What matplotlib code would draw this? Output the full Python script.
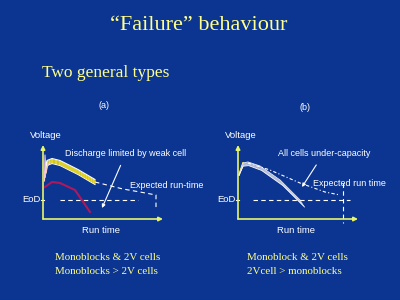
import matplotlib.pyplot as plt
import numpy as np

# schematic discharge curves (time units, voltage units) read off the slide
# chart (a)
a_cells_t = [0.2, 0.4, 0.9, 1.7, 3.5, 5.2]
a_cells_v = [4.4, 5.6, 5.8, 5.6, 4.7, 3.7]
a_spike_t = [0.15, 0.2, 0.3, 0.45, 0.7]
a_spike_v = [3.8, 6.4, 4.6, 5.3, 5.7]
a_weak_t = [0.2, 0.9, 1.7, 3.2, 4.7]
a_weak_v = [3.2, 3.7, 3.6, 2.9, 0.7]
a_exp_t = [5.2, 8.0, 9.7, 11.3, 11.3]
a_exp_v = [3.7, 3.0, 2.7, 2.4, 1.1]
a_eod_t = [1.7, 9.5]
a_eod = 1.9

# chart (b)
b_cells_t = [0.1, 0.5, 1.0, 2.2, 4.2, 6.2]
b_cells_v = [4.4, 5.6, 5.7, 5.3, 3.9, 1.9]
b_exp_t = [1.0, 3.2, 6.2, 8.7, 10.2]
b_exp_v = [5.6, 4.9, 3.6, 2.7, 2.4]
b_end_t = 10.5
b_end_v = [3.6, -0.4]
b_eod_t = [1.5, 11.2]
b_eod = 1.9

bg = '#0b3591'
yel = '#ffff8c'
axcol = '#e6f56a'
sans = 'Liberation Sans'
serif = 'Liberation Serif'

fig = plt.figure(figsize=(4, 3), dpi=100, facecolor=bg)

def ft(x, y, s, **kw):
    fig.text(x / 400, 1 - y / 300, s, **kw)

ft(199, 26, '\u201cFailure\u201d behaviour', color=yel, fontsize=16,
   family=serif, ha='center', va='center')
ft(42, 73, 'Two general types', color=yel, fontsize=12.5,
   family=serif, ha='left', va='center')
ft(104, 106, '(a)', color='white', fontsize=6.5, family=sans,
   ha='center', va='center')
ft(305, 108, '(b)', color='white', fontsize=6.5, family=sans,
   ha='center', va='center')
for x, lines in [(55, ['Monoblocks & 2V cells', 'Monoblocks > 2V cells']),
                 (247, ['Monoblock & 2V cells', '2Vcell > monoblocks'])]:
    ft(x, 257, lines[0], color=yel, fontsize=7.9, family=serif,
       ha='left', va='center')
    ft(x, 272, lines[1], color=yel, fontsize=7.9, family=serif,
       ha='left', va='center')


def make_axes(x0):
    ax = fig.add_axes([x0 / 400, 81 / 300, 120 / 400, 74 / 300])
    ax.set_facecolor('none')
    ax.set_xlim(0, 12)
    ax.set_ylim(0, 7.4)
    for s in ax.spines.values():
        s.set_visible(False)
    ax.set_xticks([])
    ax.set_yticks([])
    ax.annotate('', xy=(0, 1), xytext=(0, 0), xycoords='axes fraction',
                arrowprops=dict(arrowstyle='-|>', color=axcol, lw=1.2,
                                mutation_scale=6, shrinkA=0, shrinkB=0))
    ax.annotate('', xy=(1, 0), xytext=(0, 0), xycoords='axes fraction',
                arrowprops=dict(arrowstyle='-|>', color=axcol, lw=1.2,
                                mutation_scale=6, shrinkA=0, shrinkB=0))
    ax.text(-0.11, 1.13, 'Voltage', transform=ax.transAxes, color='white',
            fontsize=6.8, family=sans, ha='left', va='center')
    ax.text(0.48, -0.15, 'Run time', transform=ax.transAxes, color='white',
            fontsize=6.8, family=sans, ha='center', va='center')
    ax.text(-0.02, 1.9, 'EoD', color='white', fontsize=6.8,
            family=sans, ha='right', va='center',
            transform=ax.get_yaxis_transform())
    ax.plot([-0.25, 0.1], [1.9, 1.9], color='white', lw=0.8, clip_on=False)
    return ax


# chart (a)
ax = make_axes(43)
for i, off in enumerate(np.linspace(-0.25, 0.25, 6)):
    c = 'white' if i in (0, 5) else '#f2e020'
    ax.plot(a_cells_t, [v + off for v in a_cells_v], color=c, lw=0.8)
ax.plot(a_spike_t, a_spike_v, color='#f6c8d8', lw=0.8)
ax.plot(a_weak_t, a_weak_v, color='#b0185c', lw=1.5)
ax.plot(a_exp_t, a_exp_v, color='white', lw=0.8, ls=(0, (4, 3)))
ax.plot(a_eod_t, [a_eod, a_eod], color='white', lw=0.8, ls=(0, (4, 3)))
ax.annotate('Discharge limited by weak cell', xy=(5.9, 1.1), xytext=(8.3, 6.6),
            color='white', fontsize=6.5, family=sans, ha='center',
            va='center',
            arrowprops=dict(arrowstyle='-|>', color='white', lw=0.8,
                            mutation_scale=5, shrinkA=4, shrinkB=0))
ax.text(8.7, 3.3, 'Expected run-time', color='white', fontsize=6.5,
        family=sans, ha='left', va='center')

# chart (b)
ax = make_axes(238)
ax.plot(b_cells_t[:2], b_cells_v[:2], color='#f2e020', lw=1.2)
n = len(b_cells_t)
for i, off in enumerate(np.linspace(0, 1, 6)):
    c = 'white' if i in (0, 5) else '#c8cce0'
    tt = [t + off * 0.45 * (k / (n - 1)) ** 2 for k, t in enumerate(b_cells_t)]
    vv = [v - off * (0.3 * min(k, 1) + 0.4 * (k / (n - 1)) ** 2)
          for k, v in enumerate(b_cells_v)]
    ax.plot(tt, vv, color=c, lw=0.6)
ax.plot(b_exp_t, b_exp_v, color='white', lw=0.8, ls=(0, (3, 2, 1, 2)))
ax.plot([b_end_t, b_end_t], b_end_v, color='white', lw=0.8, ls=(0, (4, 3)),
        clip_on=False)
ax.plot(b_eod_t, [b_eod, b_eod], color='white', lw=0.8, ls=(0, (4, 3)))
ax.annotate('All cells under-capacity', xy=(6.4, 3.2), xytext=(8.6, 6.6),
            color='white', fontsize=6.5, family=sans, ha='center',
            va='center',
            arrowprops=dict(arrowstyle='-|>', color='white', lw=0.8,
                            mutation_scale=5, shrinkA=4, shrinkB=0))
ax.text(7.5, 3.6, 'Expected run time', color='white', fontsize=6.5,
        family=sans, ha='left', va='center')

fig.savefig('out.png', dpi=100, facecolor=bg)
